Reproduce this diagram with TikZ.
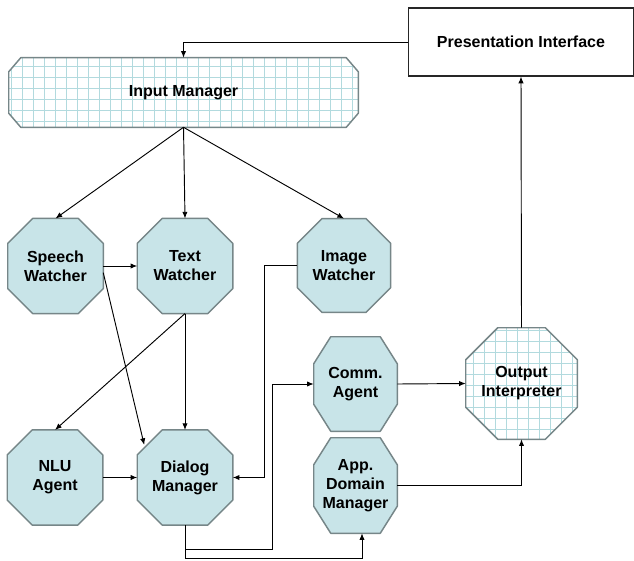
\documentclass[tikz,border=0pt]{standalone}
\usepackage{fontspec}
\setmainfont{Liberation Sans}
\usetikzlibrary{arrows.meta,backgrounds}
\definecolor{agent-fill}{RGB}{200,228,232}
\definecolor{agent-border}{RGB}{118,134,136}
\definecolor{grid-line}{RGB}{178,218,222}
\tikzset{
    agent-box/.style = {rectangle, inner sep=0pt, align=center, font=\fontsize{12}{14.25}\selectfont\bfseries},
    agent-line/.style = {draw=agent-border, fill=agent-fill, line width=1.1pt, line join=round},
    grid-fill/.style = {fill=white, path picture={\draw[grid-line, line width=0.5pt, step=8.25pt] (path picture bounding box.south west) grid (path picture bounding box.north east);}},
    plain-box/.style = {draw=black!85, fill=white, line width=0.9pt, rectangle, inner sep=0pt, font=\fontsize{12}{14.25}\selectfont\bfseries},
    arrow-line/.style = {-{Latex[length=5pt,width=4pt]}, line width=0.7pt},
}
% octagon outline round a named node: name, x chamfer, y chamfer, extra style
\newcommand{\octoutline}[4]{%
  \begin{scope}[on background layer]
    \draw[agent-line, #4] ([xshift=#2]#1.north west) -- ([xshift=-#2]#1.north east)
      -- ([yshift=-#3]#1.north east) -- ([yshift=#3]#1.south east)
      -- ([xshift=-#2]#1.south east) -- ([xshift=#2]#1.south west)
      -- ([yshift=#3]#1.south west) -- ([yshift=-#3]#1.north west) -- cycle;
  \end{scope}}

\begin{document}
\begin{tikzpicture}[x=0.75pt, y=-0.75pt]
\useasboundingbox (0,0) rectangle (634,560);

% top row
\node[plain-box, minimum width=168.75pt, minimum height=51pt] (pres) at (521,42) {Presentation Interface};
\node[agent-box, minimum width=261.75pt, minimum height=51.75pt] (input) at (183.5,92.5) {Input Manager};

% watchers
\node[agent-box, minimum width=71.25pt, minimum height=70.9pt] (speech) at (55.5,266) {Speech\\Watcher};
\node[agent-box, minimum width=71.25pt, minimum height=70.9pt] (text) at (185,266) {Text\\Watcher};
\node[agent-box, minimum width=69.5pt, minimum height=70pt] (image) at (344,265.5) {Image\\Watcher};

% lower row
\node[agent-box, minimum width=71.25pt, minimum height=70.9pt] (nlu) at (55,477.5) {NLU\\Agent};
\node[agent-box, minimum width=71.25pt, minimum height=70.9pt] (dialog) at (185,477.5) {Dialog\\Manager};
\node[agent-box, minimum width=62.25pt, minimum height=70.5pt] (comm) at (355.5,384) {Comm.\\Agent};
\node[agent-box, minimum width=62.25pt, minimum height=71.25pt] (app) at (355.5,485.5) {App.\\Domain\\Manager};
\node[agent-box, minimum width=83.25pt, minimum height=83.25pt] (output) at (521.5,383.5) {Output\\Interpreter};

\octoutline{input}{9pt}{10.5pt}{grid-fill}
\octoutline{speech}{18.75pt}{18.75pt}{}
\octoutline{text}{18.75pt}{18.75pt}{}
\octoutline{image}{18.5pt}{18.5pt}{}
\octoutline{nlu}{18.75pt}{18.75pt}{}
\octoutline{dialog}{18.75pt}{18.75pt}{}
\octoutline{comm}{12.75pt}{20.25pt}{}
\octoutline{app}{12.75pt}{20.25pt}{}
\octoutline{output}{24pt}{24pt}{grid-fill}

\coordinate (c1) at (272,549);
\coordinate (c2) at (362,558);

\draw[arrow-line] (pres.west) -| (input.north);
\draw[arrow-line] (input.south) -- (speech.north);
\draw[arrow-line] (input.south) -- (text.north);
\draw[arrow-line] (input.south) -- (image.north);
\draw[arrow-line] (speech.east) -- (text.west);
\draw[arrow-line] ([yshift=-5pt]speech.east) -- ([shift={(7,15)}]dialog.north west);
\draw[arrow-line] (text.south) -- (nlu.north);
\draw[arrow-line] (text.south) -- (dialog.north);
\draw[arrow-line] (nlu.east) -- (dialog.west);
\draw[arrow-line] (image.west) -- ++(-33,0) |- (dialog.east);
\draw[arrow-line] (dialog.south) |- (c1) |- (comm.west);
\draw[arrow-line] (dialog.south) |- (c2) -- (c2 |- app.south);
\draw[arrow-line] (comm.east) -- (output.west);
\draw[arrow-line] (app.east) -| (output.south);
\draw[arrow-line] (output.north) -- (pres.south);
\end{tikzpicture}
\end{document}
